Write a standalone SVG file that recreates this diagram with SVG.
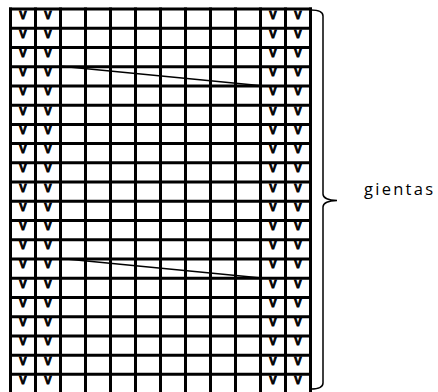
<svg xmlns="http://www.w3.org/2000/svg" width="438" height="392" viewBox="0 0 438 392">
<style>
.grid{stroke:#000;stroke-width:3;fill:none}
.diag{stroke:#000;stroke-width:1.5;fill:none}
.brace{stroke:#000;stroke-width:1.5;fill:none}
.v{font-family:"Liberation Sans",Arial,sans-serif;font-weight:bold;font-size:11px;text-anchor:middle;fill:#000;stroke:#000;stroke-width:0.9;stroke-linejoin:miter}
.lbl{font-family:"Open Sans","Noto Sans",sans-serif;font-size:16.5px;fill:#000}
</style>
<rect width="438" height="392" fill="#fff"/>
<g id="grid">
<path class="grid" d="M10.5,7.5V394 M35.5,7.5V394 M60.5,7.5V394 M85.5,7.5V394 M110.5,7.5V394 M135.5,7.5V394 M160.5,7.5V394 M185.5,7.5V394 M210.5,7.5V394 M235.5,7.5V394 M260.5,7.5V394 M285.5,7.5V394 M310.5,7.5V394"/>
<path class="grid" d="M9,9H312 M9,28.23H312 M9,47.46H312 M9,66.69H312 M9,85.92H312 M9,105.15H312 M9,124.38H312 M9,143.61H312 M9,162.84H312 M9,182.07H312 M9,201.3H312 M9,220.53H312 M9,239.76H312 M9,258.99H312 M9,278.22H312 M9,297.45H312 M9,316.68H312 M9,335.91H312 M9,355.14H312 M9,374.37H312 M9,393.6H312"/>
</g>
<g id="marks">
<text class="v" x="23 48 273 298" y="18.5">VVVV</text>
<text class="v" x="23 48 273 298" y="37.73">VVVV</text>
<text class="v" x="23 48 273 298" y="56.96">VVVV</text>
<text class="v" x="23 48 273 298" y="76.19">VVVV</text>
<text class="v" x="23 48 273 298" y="95.42">VVVV</text>
<text class="v" x="23 48 273 298" y="114.65">VVVV</text>
<text class="v" x="23 48 273 298" y="133.88">VVVV</text>
<text class="v" x="23 48 273 298" y="153.11">VVVV</text>
<text class="v" x="23 48 273 298" y="172.34">VVVV</text>
<text class="v" x="23 48 273 298" y="191.57">VVVV</text>
<text class="v" x="23 48 273 298" y="210.8">VVVV</text>
<text class="v" x="23 48 273 298" y="230.03">VVVV</text>
<text class="v" x="23 48 273 298" y="249.26">VVVV</text>
<text class="v" x="23 48 273 298" y="268.49">VVVV</text>
<text class="v" x="23 48 273 298" y="287.72">VVVV</text>
<text class="v" x="23 48 273 298" y="306.95">VVVV</text>
<text class="v" x="23 48 273 298" y="326.18">VVVV</text>
<text class="v" x="23 48 273 298" y="345.41">VVVV</text>
<text class="v" x="23 48 273 298" y="364.64">VVVV</text>
<text class="v" x="23 48 273 298" y="383.87">VVVV</text>
</g>
<g id="connectors">
<path class="diag" d="M61,66.2L259,85.4"/>
<path class="diag" d="M61,258.5L259,277.7"/>
</g>
<g id="brace">
<path class="brace" d="M311,10 Q323,10 323,16 L323,194 Q323,200 337,200.5 Q323,201 323,207 L323,383 Q323,389 311,389"/>
</g>
<g id="label">
<text class="lbl" x="364" y="195" textLength="69" lengthAdjust="spacing">gientas</text>
</g>
</svg>
